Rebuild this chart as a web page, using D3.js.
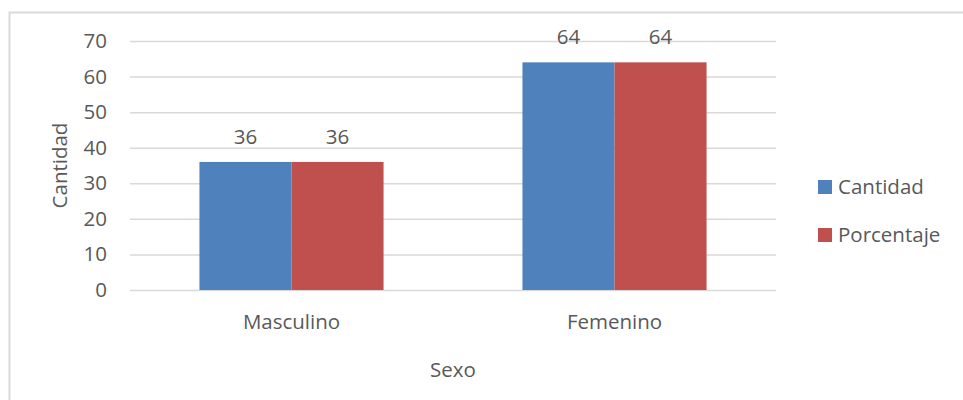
<!DOCTYPE html>
<html>
<head>
<meta charset="utf-8">
<script src="https://cdn.jsdelivr.net/npm/d3@7"></script>
<style>
  body { margin: 0; background: #fff; }
  text { font-family: "Open Sans", sans-serif; fill: #595959; }
</style>
</head>
<body>
<svg id="chart" width="963" height="400"></svg>
<script>
// chart data
var categories = ["Masculino", "Femenino"];
var seriesNames = ["Cantidad", "Porcentaje"];
var cantidad = [36, 64];
var porcentaje = [36, 64];
var yTicks = [0, 10, 20, 30, 40, 50, 60, 70];

var colors = {Cantidad: "#4F81BD", Porcentaje: "#C0504D"};

var svg = d3.select("#chart");
// plot box (window.top is reserved, so own names here)
var plotL = 130, plotR = 776, plotT = 41, plotB = 290;
var fs = "20.5px";

// outer border of the chart area
svg.append("rect")
    .attr("x", 9.5).attr("y", 12.5)
    .attr("width", 1000).attr("height", 500)
    .attr("fill", "none")
    .attr("stroke", "#D9D9D9")
    .attr("stroke-width", 2);

var rows = categories.map(function (c, i) {
    return {cat: c, Cantidad: cantidad[i], Porcentaje: porcentaje[i]};
});

var x0 = d3.scaleBand()
    .domain(categories)
    .range([plotL, plotR])
    .paddingInner(0.43)
    .paddingOuter(0.215);

var x1 = d3.scaleBand()
    .domain(seriesNames)
    .range([0, x0.bandwidth()]);

var y = d3.scaleLinear()
    .domain([0, 70])
    .range([plotB, plotT]);

// y axis with gridlines
var yAxis = svg.append("g")
    .attr("transform", "translate(" + plotL + ",0)")
    .call(d3.axisLeft(y).tickValues(yTicks).tickSize(-(plotR - plotL)).tickPadding(23));
yAxis.select(".domain").remove();
yAxis.selectAll("line").attr("stroke", "#D9D9D9").attr("stroke-width", 1.5);
yAxis.selectAll("text").style("font-size", fs).style("fill", "#595959")
    .style("font-family", "'Open Sans', sans-serif");

// x axis labels
var xAxis = svg.append("g")
    .attr("transform", "translate(0," + plotB + ")")
    .call(d3.axisBottom(x0).tickSize(0).tickPadding(24));
xAxis.select(".domain").remove();
xAxis.selectAll("text").style("font-size", fs).style("fill", "#595959")
    .style("font-family", "'Open Sans', sans-serif");

// bars
var groups = svg.append("g").selectAll("g")
    .data(rows)
    .enter()
    .append("g")
    .attr("transform", d => "translate(" + x0(d.cat) + ",0)");

groups.selectAll("rect")
    .data(d => seriesNames.map(s => ({key: s, value: d[s]})))
    .enter()
    .append("rect")
    .attr("x", d => x1(d.key))
    .attr("y", d => y(d.value))
    .attr("width", x1.bandwidth())
    .attr("height", d => y(0) - y(d.value))
    .attr("fill", d => colors[d.key]);

groups.selectAll("text.lbl")
    .data(d => seriesNames.map(s => ({key: s, value: d[s]})))
    .enter()
    .append("text")
    .attr("class", "lbl")
    .attr("x", d => x1(d.key) + x1.bandwidth() / 2)
    .attr("y", d => y(d.value) - 18)
    .attr("text-anchor", "middle")
    .style("font-size", fs)
    .text(d => d.value);

// axis titles
svg.append("text")
    .attr("x", (plotL + plotR) / 2)
    .attr("y", 377)
    .attr("text-anchor", "middle")
    .style("font-size", fs)
    .text("Sexo");

svg.append("text")
    .attr("transform", "translate(67," + ((plotT + plotB) / 2) + ") rotate(-90)")
    .attr("text-anchor", "middle")
    .style("font-size", fs)
    .text("Cantidad");

// legend
var legend = svg.append("g").selectAll("g")
    .data(seriesNames)
    .enter()
    .append("g")
    .attr("transform", (d, i) => "translate(818," + (180 + i * 48) + ")");

legend.append("rect")
    .attr("width", 14).attr("height", 14)
    .attr("fill", d => colors[d]);

legend.append("text")
    .attr("x", 20)
    .attr("y", 14)
    .style("font-size", fs)
    .text(d => d);
</script>
</body>
</html>
